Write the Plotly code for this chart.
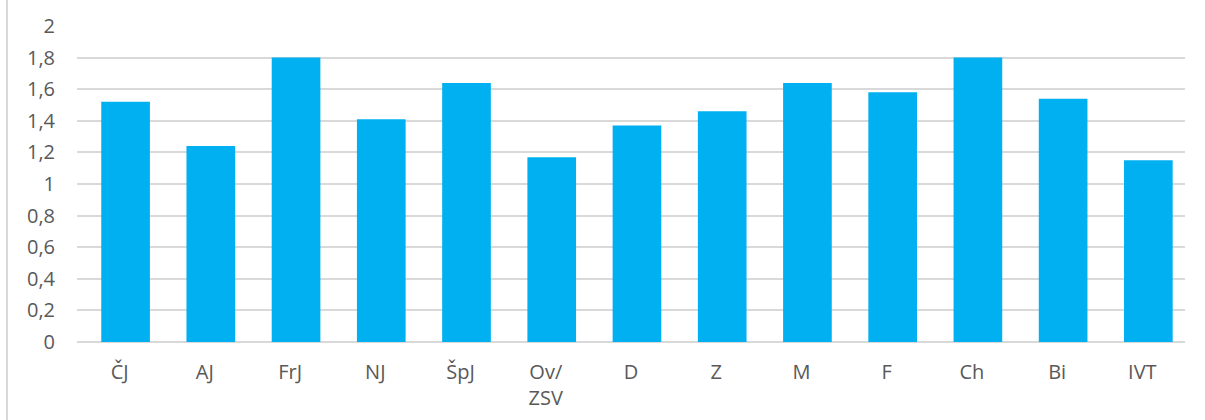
import plotly.graph_objects as go

categories = ["ČJ", "AJ", "FrJ", "NJ", "ŠpJ", "Ov/<br>ZSV", "D", "Z", "M", "F", "Ch", "Bi", "IVT"]
values = [1.52, 1.24, 1.80, 1.41, 1.64, 1.17, 1.37, 1.46, 1.64, 1.58, 1.80, 1.54, 1.15]
y_ticks = [0, 0.2, 0.4, 0.6, 0.8, 1.0, 1.2, 1.4, 1.6, 1.8, 2.0]
y_tick_labels = ["0", "0,2", "0,4", "0,6", "0,8", "1", "1,2", "1,4", "1,6", "1,8", "2"]

W, H = 1205, 420
L, R, T, B = 77, 20, 26, 78
plot_w = W - L - R

bar_w = 0.571
shift = 0.07

fig = go.Figure(
    go.Bar(
        x=categories,
        y=values,
        marker=dict(color="#00B0F0", line=dict(width=0)),
        width=bar_w,
        offset=-bar_w / 2 + shift,
        hoverinfo="x+y",
    )
)

font_family = "Open Sans, Noto Sans, sans-serif"

fig.update_layout(
    width=W,
    height=H,
    margin=dict(l=L, r=R, t=T, b=B, pad=0),
    paper_bgcolor="white",
    plot_bgcolor="white",
    showlegend=False,
    separators=", ",
    font=dict(family=font_family, size=20, color="#595959"),
    xaxis=dict(
        type="category",
        range=[-0.5, len(categories) - 0.5],
        showgrid=False,
        showline=False,
        zeroline=False,
        ticks="",
        tickfont=dict(size=20, color="#595959"),
        ticklabelstandoff=16,
        fixedrange=True,
        automargin=False,
    ),
    yaxis=dict(
        range=[0, 2.0],
        tickvals=y_ticks,
        ticktext=y_tick_labels,
        showgrid=True,
        gridcolor="#d9d9d9",
        gridwidth=1.5,
        zeroline=True,
        zerolinecolor="#d9d9d9",
        zerolinewidth=1.5,
        showline=False,
        ticks="",
        tickfont=dict(size=20, color="#595959"),
        ticklabelstandoff=21,
        fixedrange=True,
        automargin=False,
    ),
    shapes=[
        dict(
            type="line",
            xref="paper",
            yref="paper",
            x0=(7 - L) / plot_w,
            x1=(7 - L) / plot_w,
            y0=-1,
            y1=2,
            line=dict(color="#d9d9d9", width=2),
            layer="below",
        )
    ],
)

fig.write_html(
    "out.html",
    config={"displayModeBar": False},
    post_script="document.body.style.margin='0';document.body.style.padding='0';",
)
